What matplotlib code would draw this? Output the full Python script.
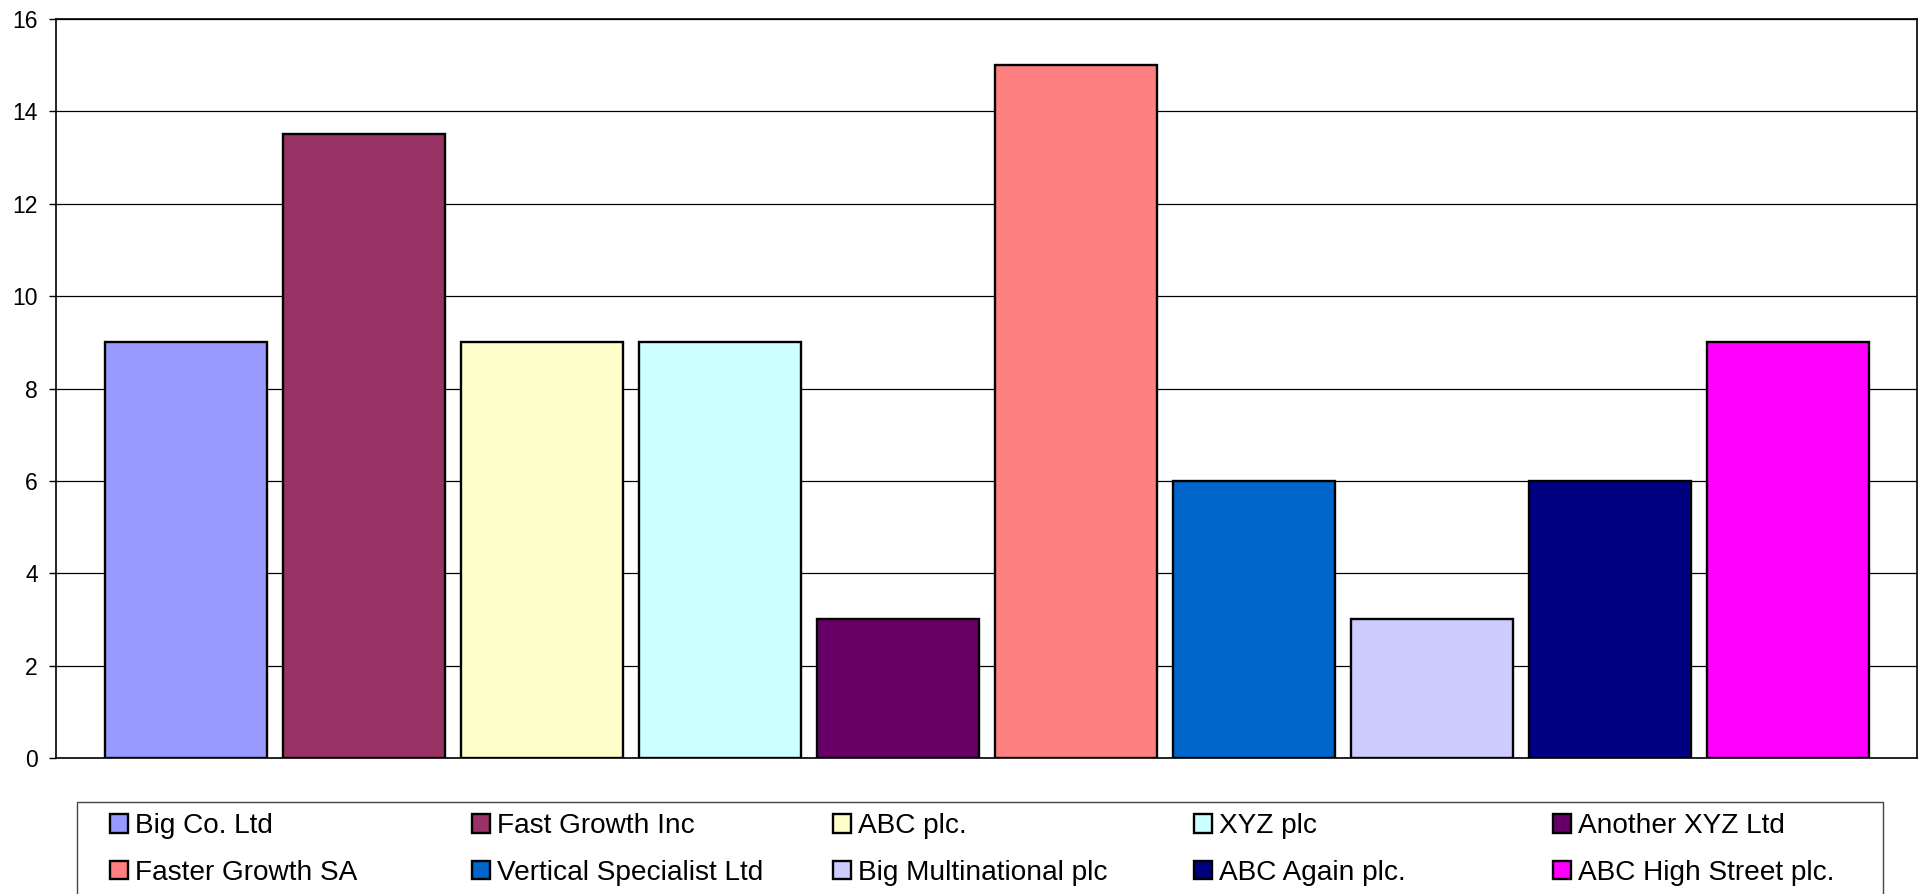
import matplotlib
matplotlib.use("Agg")
import matplotlib.pyplot as plt
from matplotlib.patches import Rectangle

companies = ["Big Co. Ltd", "Fast Growth Inc", "ABC plc.", "XYZ plc", "Another XYZ Ltd",
             "Faster Growth SA", "Vertical Specialist Ltd", "Big Multinational plc",
             "ABC Again plc.", "ABC High Street plc."]
values = [9, 13.5, 9, 9, 3, 15, 6, 3, 6, 9]
colors = ["#9999FF", "#993366", "#FFFFCC", "#CCFFFF", "#660066",
          "#FF8080", "#0066CC", "#CCCCFF", "#000080", "#FF00FF"]
yticks = [0, 2, 4, 6, 8, 10, 12, 14, 16]

plt.rcParams['font.family'] = ['Liberation Sans', 'DejaVu Sans']

W, H = 1921, 894
fig = plt.figure(figsize=(W / 100, H / 100), dpi=100)
ax = fig.add_axes([56 / W, (H - 758) / H, (1917 - 56) / W, (758 - 19) / H])

bars = []
for i, (name, v, c) in enumerate(zip(companies, values, colors)):
    b = ax.bar(i, v, width=0.91, color=c, edgecolor="black", linewidth=1.7,
               label=name, zorder=3)
    bars.append(b)

ax.set_xlim(-0.73, 9.725)
ax.set_ylim(0, 16)
ax.set_yticks(yticks)
ax.set_xticks([])
ax.yaxis.grid(True, color="black", linewidth=0.9, zorder=0)
ax.set_axisbelow(True)
for s in ax.spines.values():
    s.set_color("black")
    s.set_linewidth(1.2)
ax.tick_params(axis="y", direction="out", length=5, width=1, labelsize=16.5, pad=8, colors="black")

# legend frame (cut off at bottom of figure)
fig.patches.append(Rectangle((77 / W, 0 - 0.05), (1883 - 77) / W, (H - 802) / H + 0.05,
                             transform=fig.transFigure, facecolor="white",
                             edgecolor="#444444", linewidth=1.0, zorder=1))

col_x = [110, 472, 833, 1194, 1553]
for c in range(5):
    hs = [bars[c], bars[c + 5]]
    ls = [companies[c], companies[c + 5]]
    leg = fig.legend(hs, ls, loc="upper left",
                     bbox_to_anchor=(col_x[c] / W, (H - 813) / H),
                     frameon=False, fontsize=20.2, borderpad=0, borderaxespad=0,
                     handlelength=0.65, handleheight=0.65, handletextpad=0.25,
                     labelspacing=0.74)
    leg.set_zorder(5)

fig.savefig("out.png", dpi=100)
